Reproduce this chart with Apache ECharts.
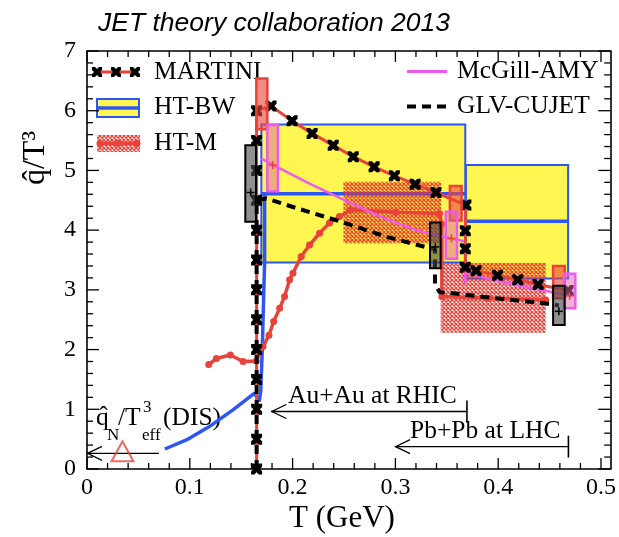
<!DOCTYPE html>
<html><head><meta charset="utf-8">
<script src="https://cdn.jsdelivr.net/npm/echarts@6.0.0/dist/echarts.min.js"></script>
<style>html,body{margin:0;padding:0;background:#fff}#c{width:619px;height:537px}</style>
</head><body><div id="c"></div>
<script>
// ---------------- data ----------------
const X_TICKS = [0, 0.1, 0.2, 0.3, 0.4, 0.5];
const Y_TICKS = [0, 1, 2, 3, 4, 5, 6, 7];
const X_MINOR_STEP = 0.02;
const Y_MINOR_STEP = 0.2;

// MARTINI (red line, black X markers)
const T_MARTINI = [0.165,0.165,0.165,0.165,0.165,0.165,0.165,0.165,0.165,0.165,0.165,0.165,0.165,0.179,0.1995,0.219,0.2395,0.259,0.2793,0.299,0.3192,0.3395,0.3686,0.368,0.368,0.368,0.3785,0.3993,0.419,0.4388,0.468];
const Q_MARTINI = [0,0.5,1,1.5,2,2.5,3,3.5,4,4.5,5,5.5,6,6.08,5.83,5.62,5.42,5.23,5.06,4.91,4.77,4.63,4.42,3.99,3.69,3.38,3.32,3.245,3.17,3.09,2.99];

// GLV-CUJET (black dashed)
const T_GLV = [0.165,0.165,0.1745,0.2036,0.2473,0.291,0.333,0.3385,0.3385,0.343,0.352,0.3816,0.414,0.443,0.459];
const Q_GLV = [0,4.5,4.53,4.37,4.14,3.89,3.70,3.68,3.1,2.96,2.95,2.89,2.83,2.78,2.74];

// McGill-AMY (magenta)
const T_AMY_RHIC = [0.1696,0.179,0.215,0.236,0.2845,0.32,0.354,0.368];
const Q_AMY_RHIC = [5.2,5.11,4.79,4.62,4.23,4.0,3.86,3.81];
const T_AMY_LHC = [0.368,0.368,0.417,0.4706];
const Q_AMY_LHC = [3.11,3.28,3.08,2.90];

// HT-M (red line with circles)
const T_HTM = [0.1184,0.1259,0.1395,0.1518,0.1647,0.1712,0.177,0.1816,0.1874,0.1922,0.1971,0.2003,0.2084,0.2165,0.2262,0.2359,0.2456,0.257,0.30,0.343,0.3452,0.3452,0.39,0.4463];
const Q_HTM = [1.75,1.85,1.91,1.80,1.81,2.05,2.24,2.47,2.69,2.89,3.17,3.28,3.56,3.75,3.95,4.12,4.23,4.34,4.30,4.28,4.1,2.89,2.86,2.83];

// HT-BW (blue curve below Tc)
const T_HTBW = [0.0757,0.0968,0.119,0.142,0.163,0.1675,0.169,0.1705,0.172,0.1728,0.1728];
const Q_HTBW = [0.335,0.486,0.71,0.99,1.27,1.13,1.3,2.0,3.0,3.46,4.61];

// HT-BW bands: T from, T to, low, high, central
const HTBW_T0 = [0.1696, 0.3686];
const HTBW_T1 = [0.368, 0.468];
const HTBW_LO = [3.46, 3.19];
const HTBW_HI = [5.77, 5.09];
const HTBW_MID = [4.61, 4.15];

// HT-M bands
const HTM_T0 = [0.2495, 0.3440];
const HTM_T1 = [0.3445, 0.4463];
const HTM_LO = [3.78, 2.28];
const HTM_HI = [4.81, 3.45];

// model uncertainty boxes
const MARTINI_BOX_T0 = [0.1647, 0.353, 0.4534];
const MARTINI_BOX_T1 = [0.1754, 0.3644, 0.4647];
const MARTINI_BOX_LO = [5.69, 4.16, 2.86];
const MARTINI_BOX_HI = [6.54, 4.74, 3.40];

const AMY_BOX_T0 = [0.1754, 0.349, 0.464];
const AMY_BOX_T1 = [0.1857, 0.360, 0.475];
const AMY_BOX_LO = [4.65, 3.52, 2.69];
const AMY_BOX_HI = [5.76, 4.31, 3.27];
const AMY_BOX_C = [5.09, 3.86, 2.90];

const GLV_BOX_T0 = [0.154, 0.3337, 0.4534];
const GLV_BOX_T1 = [0.1644, 0.344, 0.4647];
const GLV_BOX_LO = [4.14, 3.36, 2.41];
const GLV_BOX_HI = [5.42, 4.13, 3.07];
const GLV_BOX_C = [4.63, 3.72, 2.64];

// DIS point
const T_DIS = [0.0345];
const Q_DIS = [0.296];

// annotation arrows: tip T, tail T, level, end bar
const ARROW_TIP = [0, 0.1793, 0.2997];
const ARROW_TAIL = [0.07, 0.3696, 0.4683];
const ARROW_Q = [0.263, 0.963, 0.374];
const ARROW_BAR = [0, 1, 1];

// ---------------- helpers ----------------
const zip = (a, b) => a.map((v, i) => [v, b[i]]);
const cols = (...arrs) => arrs[0].map((_, i) => arrs.map(a => a[i]));

function hatch(color, size, lw, bg) {
  const c = document.createElement('canvas');
  c.width = c.height = size;
  const g = c.getContext('2d');
  if (bg) { g.fillStyle = bg; g.fillRect(0, 0, size, size); }
  g.strokeStyle = color; g.lineWidth = lw;
  g.beginPath();
  g.moveTo(0, 0); g.lineTo(size, size);
  g.moveTo(size, 0); g.lineTo(0, size);
  g.stroke();
  return c;
}
const RED = '#e8433a';
const BLUE = '#2e55f6';
const YEL = '#fff652';
const MAG = '#ec5bec';
const SERIF = '"Liberation Serif", "DejaVu Serif", serif';
const htmPattern = { image: hatch('rgba(238,55,45,0.95)', 4, 1.3), repeat: 'repeat' };
const XPTS = [[0,0],[3,0],[5,2],[7,0],[10,0],[10,3],[8,5],[10,7],[10,10],[7,10],[5,8],[3,10],[0,10],[0,7],[2,5],[0,3]];
const XMARK = 'path://' + XPTS.map((p, i) => (i ? 'L' : 'M') + p[0] + ',' + p[1]).join(' ') + ' Z';
const xMarkAt = (cx, cy) => ({ type: 'polygon', shape: { points: XPTS.map(p => [cx - 5 + p[0], cy - 5 + p[1]]) }, style: { fill: '#000' } });

// tick positions (major from the arrays, minor subdivisions)
const xMinor = [], yMinor = [];
for (let v = 0; v <= 0.5 + 1e-9; v += X_MINOR_STEP) xMinor.push(+v.toFixed(4));
for (let v = 0; v <= 7 + 1e-9; v += Y_MINOR_STEP) yMinor.push(+v.toFixed(4));

function rectOf(api, x0, x1, y0, y1) {
  const p0 = api.coord([x0, y1]), p1 = api.coord([x1, y0]);
  return { x: p0[0], y: p0[1], width: p1[0] - p0[0], height: p1[1] - p0[1] };
}

function boxSeries(name, rows, style, plusColor, z) {
  return {
    type: 'custom', name, z, data: rows, encode: { x: [0, 1], y: [2, 3] },
    renderItem(params, api) {
      const r = rectOf(api, api.value(0), api.value(1), api.value(2), api.value(3));
      const children = [{ type: 'rect', shape: r, style }];
      if (plusColor && rows[params.dataIndex].length > 4) {
        const c = api.coord([(api.value(0) + api.value(1)) / 2, api.value(4)]);
        children.push({ type: 'polyline', shape: { points: [[c[0] - 4, c[1]], [c[0] + 4, c[1]]] }, style: { stroke: plusColor, lineWidth: 1.5 } });
        children.push({ type: 'polyline', shape: { points: [[c[0], c[1] - 4], [c[0], c[1] + 4]] }, style: { stroke: plusColor, lineWidth: 1.5 } });
      }
      return { type: 'group', children };
    }
  };
}

const chart = echarts.init(document.getElementById('c'), null, { renderer: 'canvas' });

const xLabelFmt = v => {
  const k = Math.round(v * 10);
  if (Math.abs(v * 10 - k) > 1e-6 || !X_TICKS.some(t => Math.abs(t - v) < 1e-9)) return '';
  return k === 0 ? '0' : v.toFixed(1);
};

const axisLineStyle = { color: '#000', width: 1.6 };
const XMAX = 0.509;
const txt = (x, y, text, font, extra) => Object.assign({ type: 'text', x, y, style: { text, fill: '#000', font,
  textAlign: 'left', textVerticalAlign: 'middle', align: 'left', verticalAlign: 'middle' } }, extra || {});

const option = {
  animation: false,
  backgroundColor: '#fff',
  grid: { left: 87, right: 8, top: 51, bottom: 68, containLabel: false },
  xAxis: [
    { type: 'value', min: 0, max: XMAX, interval: 0.1, position: 'bottom',
      axisLine: { show: true, onZero: false, lineStyle: axisLineStyle },
      axisTick: { show: false },
      axisLabel: { show: true, formatter: xLabelFmt, showMaxLabel: false, margin: 7, color: '#000', fontSize: 24, fontFamily: SERIF },
      splitLine: { show: false } },
    { type: 'value', min: 0, max: XMAX, interval: 0.1, position: 'top',
      axisLine: { show: true, onZero: false, lineStyle: axisLineStyle },
      axisTick: { show: false }, axisLabel: { show: false }, splitLine: { show: false } }
  ],
  yAxis: [
    { type: 'value', min: 0, max: 7, interval: 1, position: 'left',
      axisLine: { show: true, onZero: false, lineStyle: axisLineStyle },
      axisTick: { show: false },
      axisLabel: { show: true, margin: 11, color: '#000', fontSize: 24, fontFamily: SERIF,
        formatter: v => Y_TICKS.includes(v) ? String(v) : '' },
      splitLine: { show: false } },
    { type: 'value', min: 0, max: 7, interval: 1, position: 'right',
      axisLine: { show: true, onZero: false, lineStyle: axisLineStyle },
      axisTick: { show: false }, axisLabel: { show: false }, splitLine: { show: false } }
  ],
  series: [
    { type: 'custom', name: 'HT-BW bands', z: 1,
      data: cols(HTBW_T0, HTBW_T1, HTBW_LO, HTBW_HI, HTBW_MID), encode: { x: [0, 1], y: [2, 3] },
      renderItem(params, api) {
        const r = rectOf(api, api.value(0), api.value(1), api.value(2), api.value(3));
        const a = api.coord([api.value(0), api.value(4)]), b = api.coord([api.value(1), api.value(4)]);
        return { type: 'group', children: [
          { type: 'rect', shape: r, style: { fill: YEL, stroke: BLUE, lineWidth: 2 } },
          { type: 'polyline', shape: { points: [a, b] }, style: { stroke: BLUE, lineWidth: 3.5 } }
        ] };
      } },
    { type: 'custom', name: 'HT-M bands', z: 2,
      data: cols(HTM_T0, HTM_T1, HTM_LO, HTM_HI), encode: { x: [0, 1], y: [2, 3] },
      renderItem(params, api) {
        return { type: 'rect', shape: rectOf(api, api.value(0), api.value(1), api.value(2), api.value(3)), style: { fill: htmPattern } };
      } },
    { type: 'line', name: 'HT-BW', z: 3, data: zip(T_HTBW, Q_HTBW), showSymbol: false,
      lineStyle: { color: BLUE, width: 3.5 }, itemStyle: { color: BLUE } },
    { type: 'line', name: 'HT-M', z: 4, data: zip(T_HTM, Q_HTM), symbol: 'circle', symbolSize: 7, showSymbol: true,
      lineStyle: { color: RED, width: 3.5 }, itemStyle: { color: RED } },
    { type: 'line', name: 'McGill-AMY', z: 5, data: zip(T_AMY_RHIC, Q_AMY_RHIC), showSymbol: false,
      lineStyle: { color: MAG, width: 2.5 }, itemStyle: { color: MAG } },
    { type: 'line', name: 'McGill-AMY LHC', z: 5, data: zip(T_AMY_LHC, Q_AMY_LHC), showSymbol: false,
      lineStyle: { color: MAG, width: 2.5 }, itemStyle: { color: MAG } },
    { type: 'line', name: 'MARTINI', z: 5, data: zip(T_MARTINI, Q_MARTINI), showSymbol: false,
      lineStyle: { color: RED, width: 3 }, itemStyle: { color: RED } },
    { type: 'line', name: 'GLV-CUJET', z: 6, data: zip(T_GLV, Q_GLV), showSymbol: false,
      lineStyle: { color: '#000', width: 4, type: [9, 6] }, itemStyle: { color: '#000' } },
    { type: 'scatter', name: 'MARTINI points', z: 7, data: zip(T_MARTINI, Q_MARTINI), symbol: XMARK, symbolSize: 11,
      itemStyle: { color: '#000', opacity: 1 } },
    boxSeries('MARTINI boxes', cols(MARTINI_BOX_T0, MARTINI_BOX_T1, MARTINI_BOX_LO, MARTINI_BOX_HI),
      { fill: 'rgba(236,70,60,0.62)', stroke: RED, lineWidth: 2.5 }, null, 8),
    boxSeries('McGill boxes', cols(AMY_BOX_T0, AMY_BOX_T1, AMY_BOX_LO, AMY_BOX_HI, AMY_BOX_C),
      { fill: 'rgba(222,100,170,0.5)', stroke: MAG, lineWidth: 2.5 }, RED, 8),
    boxSeries('GLV boxes', cols(GLV_BOX_T0, GLV_BOX_T1, GLV_BOX_LO, GLV_BOX_HI, GLV_BOX_C),
      { fill: 'rgba(70,70,70,0.6)', stroke: '#000', lineWidth: 2 }, '#000', 8),
    { type: 'scatter', name: 'DIS', z: 9, data: zip(T_DIS, Q_DIS), symbol: 'triangle', symbolSize: [22, 20],
      itemStyle: { color: 'rgba(0,0,0,0)', borderColor: RED, borderWidth: 2 } },
    { type: 'custom', name: 'arrows', z: 9,
      data: cols(ARROW_TIP, ARROW_TAIL, ARROW_Q, ARROW_BAR), encode: { x: [0, 1], y: 2 },
      renderItem(params, api) {
        const a = api.coord([api.value(0), api.value(2)]);
        const b = api.coord([api.value(1), api.value(2)]);
        const st = { stroke: '#000', lineWidth: 1.3, fill: null };
        const ch = [
          { type: 'polyline', shape: { points: [a, b] }, style: st },
          { type: 'polyline', shape: { points: [[a[0] + 15, a[1] - 7], [a[0] + 0.5, a[1]], [a[0] + 15, a[1] + 7]] }, style: st }
        ];
        if (api.value(3)) ch.push({ type: 'polyline', shape: { points: [[b[0], b[1] - 11], [b[0], b[1] + 11]] }, style: { stroke: '#000', lineWidth: 1.6 } });
        return { type: 'group', children: ch };
      } }
  ]
};
chart.setOption(option);

// ---------- static texts, legend, and frame ticks (positions via the chart's own scales) ----------
const graphics = [
  txt(98, 24, 'JET theory collaboration 2013', 'italic 26.5px "Liberation Sans", Arial, sans-serif'),
  { type: 'text', x: 342, y: 519, style: { text: 'T (GeV)', fill: '#000', font: '31px ' + SERIF, textAlign: 'center', textVerticalAlign: 'middle', align: 'center', verticalAlign: 'middle' } },
  { type: 'text', x: 36, y: 158, rotation: Math.PI / 2, style: { text: 'q\u0302/T\u00b3', fill: '#000', font: '32px ' + SERIF, textAlign: 'center', textVerticalAlign: 'middle', align: 'center', verticalAlign: 'middle' } },
  // legend: MARTINI
  { type: 'line', shape: { x1: 97, y1: 72, x2: 135, y2: 72 }, style: { stroke: RED, lineWidth: 3 } },
  xMarkAt(97, 72), xMarkAt(116, 72), xMarkAt(135, 72),
  txt(154, 72, 'MARTINI', '25.5px ' + SERIF),
  // legend: HT-BW
  { type: 'rect', shape: { x: 97, y: 99, width: 42, height: 18 }, style: { fill: YEL, stroke: BLUE, lineWidth: 2 } },
  { type: 'line', shape: { x1: 97, y1: 108, x2: 139, y2: 108 }, style: { stroke: BLUE, lineWidth: 3.5 } },
  txt(154, 107, 'HT-BW', '25.5px ' + SERIF),
  // legend: HT-M
  { type: 'rect', shape: { x: 97, y: 135, width: 43, height: 17 }, style: { fill: htmPattern } },
  { type: 'line', shape: { x1: 97, y1: 143.5, x2: 140, y2: 143.5 }, style: { stroke: RED, lineWidth: 3.5 } },
  { type: 'circle', shape: { cx: 100, cy: 143.5, r: 3.5 }, style: { fill: RED } },
  { type: 'circle', shape: { cx: 118, cy: 143.5, r: 3.5 }, style: { fill: RED } },
  { type: 'circle', shape: { cx: 137, cy: 143.5, r: 3.5 }, style: { fill: RED } },
  txt(154, 143, 'HT-M', '25.5px ' + SERIF),
  // legend: McGill-AMY
  { type: 'line', shape: { x1: 407, y1: 71.5, x2: 447, y2: 71.5 }, style: { stroke: MAG, lineWidth: 3 } },
  txt(457, 71, 'McGill-AMY', '25.5px ' + SERIF),
  // legend: GLV-CUJET
  { type: 'line', shape: { x1: 407, y1: 106.5, x2: 447, y2: 106.5 }, style: { stroke: '#000', lineWidth: 4, lineDash: [9, 6] } },
  txt(457, 106, 'GLV-CUJET', '25.5px ' + SERIF),
  // annotations
  txt(288, 396, 'Au+Au at RHIC', '25.5px ' + SERIF),
  txt(410, 431, 'Pb+Pb at LHC', '25.5px ' + SERIF),
  // DIS label  q̂_N / T^3_eff (DIS)
  txt(96, 418, 'q\u0302', '25.5px ' + SERIF),
  txt(107, 436, 'N', '17px ' + SERIF),
  txt(118, 418, '/T', '25.5px ' + SERIF),
  txt(143, 408, '3', '17px ' + SERIF),
  txt(142, 436, 'eff', '17px ' + SERIF),
  txt(163, 418, '(DIS)', '25.5px ' + SERIF)
];

const corner0 = chart.convertToPixel({ gridIndex: 0 }, [0, 0]);
const corner1 = chart.convertToPixel({ gridIndex: 0 }, [XMAX, 7]);
const gL = corner0[0], gB = corner0[1], gR = corner1[0], gT = corner1[1];
const isMajorX = v => X_TICKS.some(t => Math.abs(t - v) < 1e-9);
const isMajorY = v => Y_TICKS.some(t => Math.abs(t - v) < 1e-9);
const TW = 1.3;
xMinor.forEach(v => {
  const px = chart.convertToPixel({ gridIndex: 0 }, [v, 0])[0];
  const len = isMajorX(v) ? 11 : 6;
  graphics.push({ type: 'rect', z: 50, shape: { x: px - TW / 2, y: gB - len, width: TW, height: len }, style: { fill: '#000' } });
  graphics.push({ type: 'rect', z: 50, shape: { x: px - TW / 2, y: gT, width: TW, height: len }, style: { fill: '#000' } });
});
yMinor.forEach(v => {
  const py = chart.convertToPixel({ gridIndex: 0 }, [0, v])[1];
  const len = isMajorY(v) ? 12 : 6;
  graphics.push({ type: 'rect', z: 50, shape: { x: gL, y: py - TW / 2, width: len, height: TW }, style: { fill: '#000' } });
  graphics.push({ type: 'rect', z: 50, shape: { x: gR - len, y: py - TW / 2, width: len, height: TW }, style: { fill: '#000' } });
});
chart.setOption({ graphic: graphics });
</script>
</body></html>
